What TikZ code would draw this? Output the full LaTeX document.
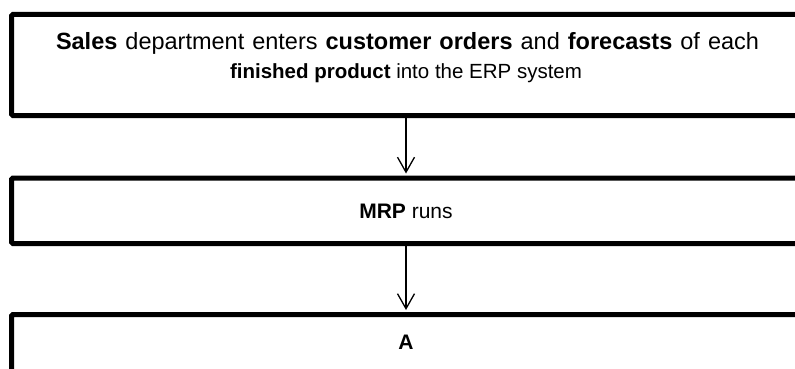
\documentclass[tikz,border=0pt]{standalone}
\usepackage{fontspec}
\setmainfont{Liberation Sans}
\usetikzlibrary{arrows.meta}
\begin{document}
\begin{tikzpicture}[x=1pt,y=-1pt,
  box/.style={draw=black,line width=5pt,rounded corners=1.5pt,minimum width=789pt,inner sep=0pt},
  txt/.style={font=\fontsize{21}{31}\selectfont,align=center,inner sep=0pt},
  arr/.style={line width=1.3pt,-{Straight Barb[length=15pt,width=17pt,line width=1.3pt]},shorten >=2pt}]
\useasboundingbox (0,0) rectangle (795,369);
\clip (0,0) rectangle (795,369);
\node[box,minimum height=101pt] (b1) at (406,65) {};
\node[box,minimum height=65.5pt] (b2) at (406,210.75) {};
\node[box,minimum height=110pt] (b3) at (406,369.5) {};
\node[txt,anchor=base,font=\fontsize{23.5}{30}\selectfont] (t1) at (407.5,49) {\makebox[703pt][s]{\textbf{Sales} department enters \textbf{customer orders} and \textbf{forecasts} of each}};
\node[txt,anchor=base,font=\fontsize{20.5}{30}\selectfont] (t1b) at (406,78) {\textbf{finished product} into the ERP system};
\node[txt] (t2) at (406,211) {\textbf{MRP} runs};
\node[txt] (t3) at (406,342) {\textbf{A}};
\draw[arr] (b1.south) -- (b2.north);
\draw[arr] (b2.south) -- (b3.north);
\end{tikzpicture}
\end{document}
